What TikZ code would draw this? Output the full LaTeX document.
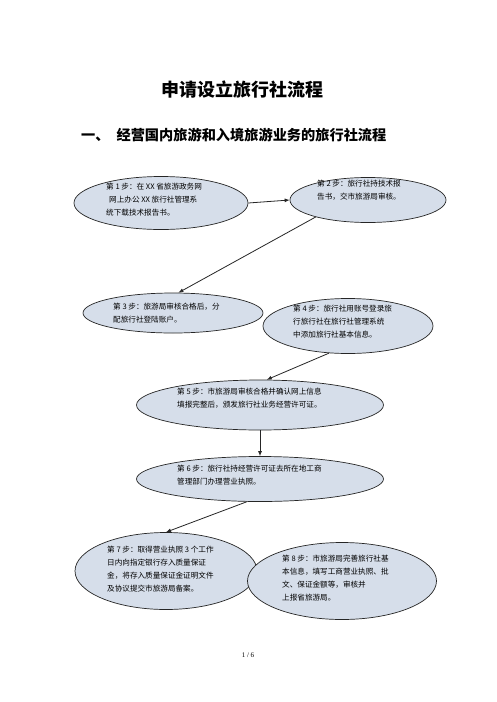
\documentclass[tikz,border=0pt]{standalone}
\usepackage{fontspec}
\setmainfont{Liberation Serif}
\newfontfamily\cjk{Noto Sans CJK SC}
\usetikzlibrary{shapes.geometric,arrows.meta}
\definecolor{ellfill}{HTML}{D6DEEA}
\tikzset{
  stepell/.style={ellipse, draw=black!85, line width=0.7pt, fill=ellfill, inner sep=0pt},
  steptxt/.style={anchor=north west, align=left, inner sep=0pt, font=\cjk\fontsize{7.6}{12.8}\selectfont},
  flow/.style={draw=black!85, line width=0.8pt, -{Latex[length=5pt,width=4pt]}}
}
\begin{document}
\begin{tikzpicture}[x=1pt,y=-1pt]
\useasboundingbox (0,0) rectangle (496,702);
\fill[white] (0,0) rectangle (496,702);
% titles
\node[font=\cjk\bfseries\fontsize{18}{20}\selectfont, inner sep=0pt] (title) at (242,90) {申请设立旅行社流程};
\node[font=\cjk\bfseries\fontsize{14.2}{16}\selectfont, anchor=west, inner sep=0pt] (sub) at (81,135) {一、\hspace{7pt}经营国内旅游和入境旅游业务的旅行社流程};
% ellipses
\node[stepell, minimum width=174pt, minimum height=53pt] (e1) at (161,203) {};
\node[stepell, minimum width=156pt, minimum height=45pt] (e2) at (368,200) {};
\node[stepell, minimum width=180pt, minimum height=40pt] (e3) at (173,313) {};
\node[stepell, minimum width=170pt, minimum height=55pt] (e4) at (348,326) {};
\node[stepell, minimum width=247pt, minimum height=50pt] (e5) at (260,405) {};
\node[stepell, minimum width=247pt, minimum height=45pt] (e6) at (260,479) {};
\node[stepell, minimum width=182pt, minimum height=77pt] (e7) at (166,571) {};
\node[stepell, minimum width=189pt, minimum height=77pt] (e8) at (342,581) {};
% texts
\node[steptxt] (t1) at (106,183) {第 1 步：在 XX 省旅游政务网\\ \hspace{3pt}网上办公 XX 旅行社管理系\\统下载技术报告书。};
\node[steptxt] (t2) at (317,180) {第 2 步：旅行社持技术报\\告书，交市旅游局审核。};
\node[steptxt] (t3) at (113,303) {第 3 步：旅游局审核合格后，分\\配旅行社登陆账户。};
\node[steptxt] (t4) at (293,305) {第 4 步：旅行社用账号登录旅\\行旅行社在旅行社管理系统\\中添加旅行社基本信息。};
\node[steptxt] (t5) at (177,388) {第 5 步：市旅游局审核合格并确认网上信息\\填报完整后，颁发旅行社业务经营许可证。};
\node[steptxt] (t6) at (177,465) {第 6 步：旅行社持经营许可证去所在地工商\\管理部门办理营业执照。};
\node[steptxt] (t7) at (107,546) {第 7 步：取得营业执照 3 个工作\\日内向指定银行存入质量保证\\金，将存入质量保证金证明文件\\及协议提交市旅游局备案。};
\node[steptxt] (t8) at (282,555) {第 8 步：市旅游局完善旅行社基\\本信息，填写工商营业执照、批\\文、保证金额等，审核并\\上报省旅游局。};
% connectors
\draw[flow] (e1.east) -- (e2.west);
\draw[flow] (e2.198) -- (e3.75);
\draw[flow] (e4.235) -- (e5.75);
\draw[flow] (e5.south) -- (e6.north);
\draw[flow] (e6.240) -- (e7.north);
% page number
\node[font=\fontsize{7}{8}\selectfont, inner sep=0pt] (pg) at (248,655) {1 / 6};
\end{tikzpicture}
\end{document}
